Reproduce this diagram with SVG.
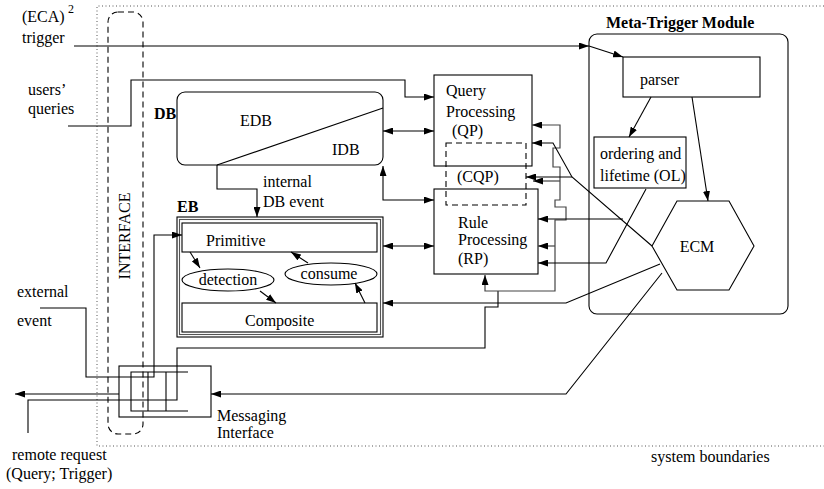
<svg xmlns="http://www.w3.org/2000/svg" width="824" height="489" viewBox="0 0 824 489">
<defs>
<marker id="ah" viewBox="0 0 10 7" refX="10" refY="3.5" markerUnits="userSpaceOnUse" markerWidth="10" markerHeight="7" orient="auto-start-reverse">
<path d="M0,0 L10,3.5 L0,7 z" fill="#000"/>
</marker>
<style>
text{font-family:"Liberation Serif","Times New Roman",serif;font-size:16px;fill:#000}
.b{font-weight:bold}
.box{fill:none;stroke:#000;stroke-width:1.1}
.ln{fill:none;stroke:#000;stroke-width:1.1}
.g{fill:none;stroke:#444;stroke-width:1.2}
.arr{marker-end:url(#ah)}
.arr2{marker-end:url(#ah);marker-start:url(#ah)}
.dot{fill:none;stroke:#555;stroke-width:1;stroke-dasharray:1 2.5}
.dash{fill:none;stroke:#000;stroke-width:1.1;stroke-dasharray:6 4}
</style>
</defs>
<rect width="824" height="489" fill="#fff"/>

<g id="system-boundary">
<polyline class="dot" points="824,6 97,6 97,446 824,446"/>
<text x="651" y="462">system boundaries</text>
</g>

<g id="interface">
<rect class="dash" x="108" y="12" width="35" height="422" rx="10"/>
<text x="0" y="0" transform="translate(130,236) rotate(-90)" text-anchor="middle">INTERFACE</text>
</g>

<g id="labels">
<text x="22" y="22">(ECA)</text>
<text x="68" y="13" style="font-size:12px">2</text>
<text x="22" y="43">trigger</text>
<text x="28" y="95">users’</text>
<text x="28" y="114">queries</text>
<text x="17" y="297">external</text>
<text x="17" y="326">event</text>
<text x="12" y="460">remote request</text>
<text x="6" y="479">(Query; Trigger)</text>
<text x="263" y="187">internal</text>
<text x="263" y="207">DB event</text>
</g>

<g id="db">
<rect class="box" x="177" y="92" width="206" height="73" rx="8"/>
<line class="ln" x1="217" y1="165" x2="383" y2="108"/>
<text class="b" x="154" y="119">DB</text>
<text x="240" y="126">EDB</text>
<text x="332" y="155">IDB</text>
</g>

<g id="eb">
<rect class="box" x="177" y="217" width="206" height="120"/>
<rect class="box" x="179.5" y="219.5" width="201" height="115" style="stroke:#555"/>
<text class="b" x="177" y="212">EB</text>
</g>
<g id="primitive">
<rect class="box" x="182" y="223" width="195" height="29"/>
<text x="206" y="246">Primitive</text>
</g>
<g id="composite">
<rect class="box" x="182" y="303" width="195" height="29"/>
<text x="245" y="326">Composite</text>
</g>
<g id="detection">
<ellipse class="box" cx="228" cy="280" rx="46" ry="11"/>
<text x="228" y="285" text-anchor="middle">detection</text>
</g>
<g id="consume">
<ellipse class="box" cx="331" cy="274" rx="46" ry="11"/>
<text x="329" y="279" text-anchor="middle">consume</text>
</g>

<g id="qp">
<rect class="box" x="434" y="75" width="98" height="91"/>
<text x="446" y="96">Query</text>
<text x="446" y="117">Processing</text>
<text x="452" y="136">(QP)</text>
</g>
<g id="rp">
<rect class="box" x="434" y="189" width="104" height="85"/>
<text x="458" y="228">Rule</text>
<text x="458" y="245">Processing</text>
<text x="458" y="264">(RP)</text>
</g>
<g id="cqp">
<rect class="dash" x="446" y="143" width="80" height="62" style="fill:none"/>
<text x="457" y="182">(CQP)</text>
</g>

<g id="meta-trigger">
<rect class="box" x="589" y="34" width="199" height="280" rx="8"/>
<text class="b" x="606" y="28">Meta-Trigger Module</text>
</g>
<g id="parser">
<rect class="box" x="623" y="57" width="137" height="40"/>
<text x="640" y="85">parser</text>
</g>
<g id="ol">
<rect class="box" x="594" y="137" width="92" height="51"/>
<text x="600" y="159">ordering and</text>
<text x="600" y="181">lifetime (OL)</text>
</g>
<g id="ecm">
<polygon class="box" points="677,201 729,201 754,246 729,290 677,290 652,246"/>
<text x="697" y="252" text-anchor="middle">ECM</text>
</g>

<g id="messaging">
<rect class="box" x="119" y="366" width="92" height="51"/>
<polyline class="ln" points="188,372 131,372 131,411 188,411"/>
<line class="ln" x1="148" y1="372" x2="148" y2="411"/>
<line class="ln" x1="166" y1="372" x2="166" y2="411"/>
<text x="217" y="421">Messaging</text>
<text x="217" y="438">Interface</text>
</g>

<g id="connectors">
<path class="ln arr" d="M74,46 H589"/>
<path class="ln arr" d="M589,46 L623,57"/>
<path class="ln arr" d="M68,126 H131 V80 H405 V97 H434"/>
<path class="ln arr2" d="M383,131 H434"/>
<path class="ln arr2" d="M434,200 H383 V166"/>
<path class="ln arr" d="M217,165 V189 H257 V217"/>
<path class="ln arr2" d="M383,246 H434"/>
<path class="ln arr" d="M660,264 L566,303 H383"/>
<path class="ln arr" d="M662,273 L566,394 H211"/>
<path class="ln arr" d="M119,394 H15"/>
<path class="ln arr" d="M40,308 H86 V377 H154 V235 H182"/>
<path class="ln" d="M28,433 V400 H177 V348 H485 V307 H498 V291"/>
<path class="g arr2" d="M532,125 H560 V148 H553 V167 H560 V200 H555 V207 H566 V220 H555 V291 H485 V275"/>
<path class="g arr" d="M555,246 H538"/>
<path class="g arr" d="M560,181 H533"/>
<path class="ln arr" d="M652,246 L572,177 L553,143 H532"/>
<path class="ln arr" d="M572,177 H526"/>
<path class="ln arr" d="M623,219 H538"/>
<path class="ln arr" d="M646,189 L606,263 H538"/>
<path class="ln arr" d="M651,97 L629,137"/>
<path class="ln arr" d="M692,97 L708,201"/>
<path class="ln arr" d="M190,252 L200,268"/>
<path class="ln arr" d="M260,291 L276,303"/>
<path class="ln arr" d="M365,303 L355,283"/>
<path class="ln arr" d="M308,263 L291,252"/>
</g>
</svg>
